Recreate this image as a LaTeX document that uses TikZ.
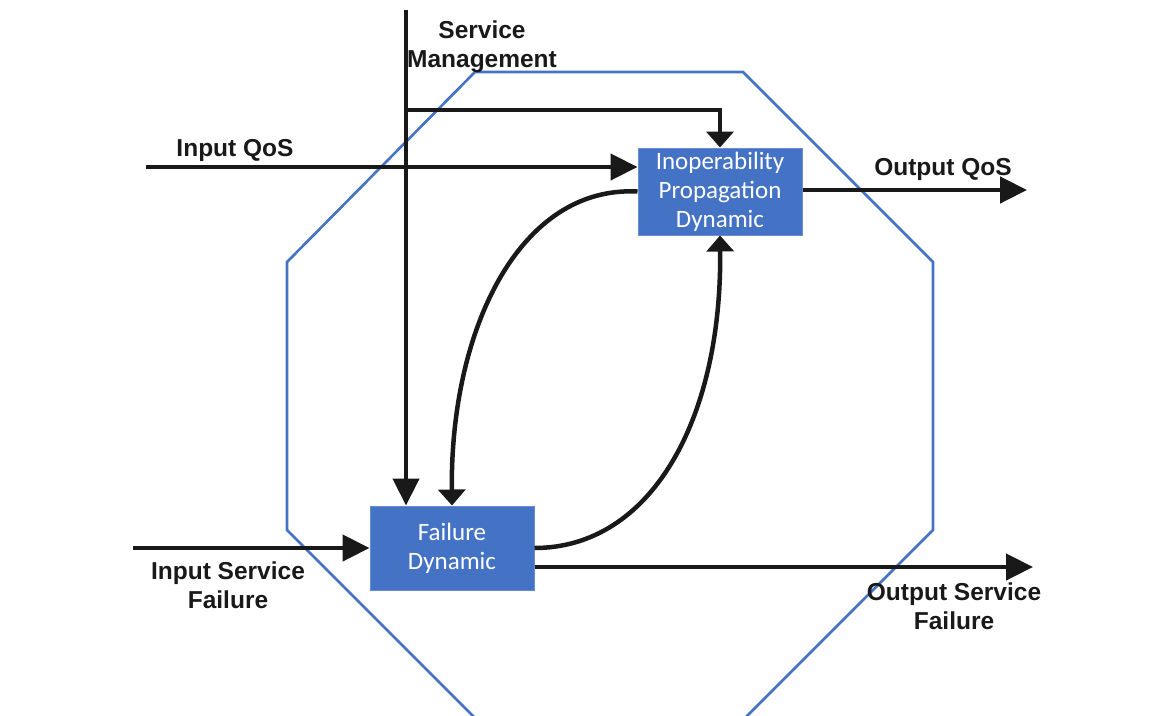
\documentclass[tikz,border=0pt]{standalone}
\usepackage{fontspec}
\setmainfont{Liberation Sans}
\newfontfamily\boxfont{Carlito}
\usetikzlibrary{arrows.meta}
\definecolor{oblue}{HTML}{4472C4}
\begin{document}
\begin{tikzpicture}[x=1pt,y=-1pt,
  wire/.style={line width=4.5pt, draw=black!90},
  bigarr/.style={wire,-{Triangle[length=27pt,width=26pt]}},
  smallarr/.style={wire,-{Triangle[length=16pt,width=27pt]}},
  blk/.style={fill=oblue, draw=oblue!80!white, line width=1pt, text=white,
    font=\boxfont\fontsize{25}{29}\selectfont, align=center, inner sep=0pt},
  lbl/.style={font=\bfseries\fontsize{24.5}{29}\selectfont, align=center,
    inner sep=0pt, text=black!90}
]
\useasboundingbox (0,0) rectangle (1166,715);
\begin{scope}
  \clip (0,0) rectangle (1166,715);
  \draw[oblue, line width=2.6pt, line join=miter]
    (475,72) -- (743,72) -- (933,262) -- (933,530) -- (745,718)
    -- (475,718) -- (287,530) -- (287,262) -- cycle;
\end{scope}

\node[blk, minimum width=164pt, minimum height=87pt] (ipd) at (720,191.5)
  {Inoperability\\Propagation\\Dynamic};
\node[blk, minimum width=164pt, minimum height=84pt] (fd) at (452,548)
  {\raisebox{-3pt}{Failure}\\\raisebox{-3pt}{Dynamic}};

\coordinate (smtop) at (406,10);
\coordinate (smbr) at (406,110);
\coordinate (iqos) at (146,167);
\coordinate (oqos) at (1027,190);
\coordinate (isf) at (133,548);
\coordinate (osf) at (1033,567);

\draw[bigarr] (smtop) -- (smtop |- fd.north);
\draw[smallarr] (smbr) -| (ipd.north);
\draw[bigarr] (iqos) -- (iqos -| ipd.west);
\draw[bigarr] (ipd.east |- oqos) -- (oqos);
\draw[bigarr] (isf) -- (isf -| fd.west);
\draw[bigarr] (fd.east |- osf) -- (osf);

\draw[smallarr] (ipd.west) .. controls +(-118,-6) and +(-2,-176) .. (fd.north);
\draw[smallarr] (fd.east) .. controls +(116,0) and +(2,185) .. (ipd.south);

\node[lbl, anchor=base] (lsm) at (482,67) {Service\\Management};
\node[lbl, anchor=base] (liqos) at (235,156) {Input QoS};
\node[lbl, anchor=base] (loqos) at (943,175) {Output QoS};
\node[lbl, anchor=base] (lisf) at (228,608) {Input Service\\Failure};
\node[lbl, anchor=base] (losf) at (954,629) {Output Service\\Failure};
\end{tikzpicture}
\end{document}
